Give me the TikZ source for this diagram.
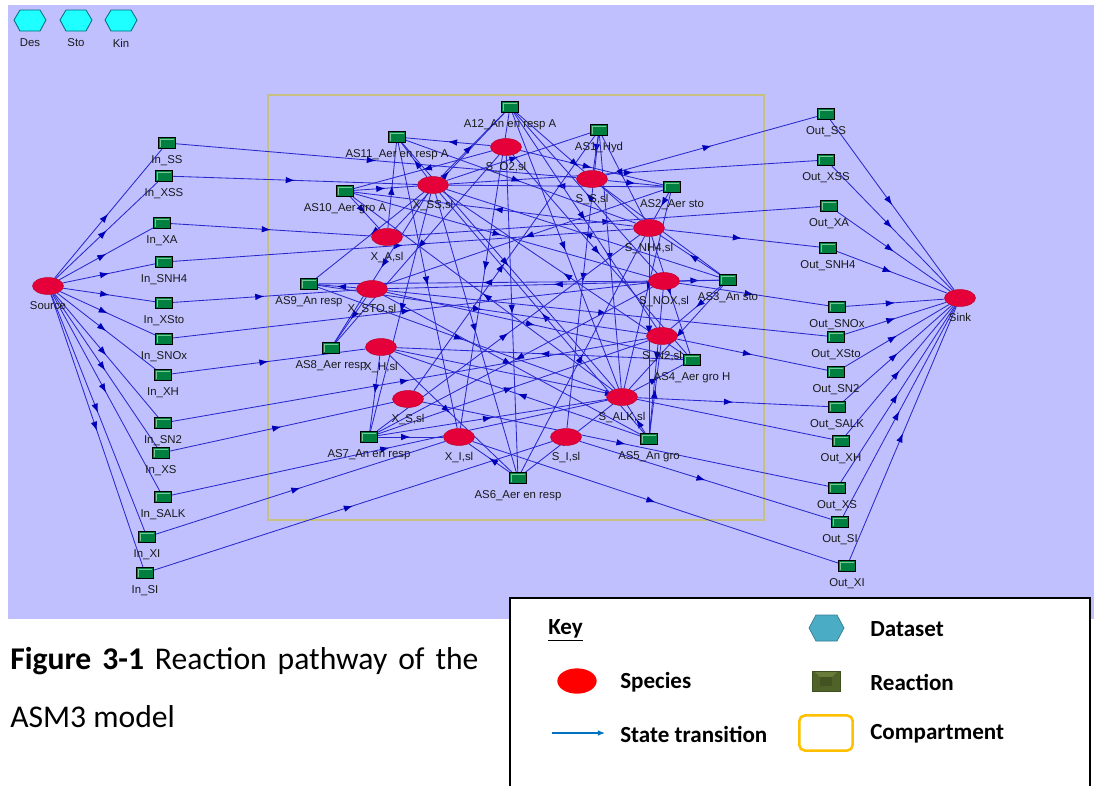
\documentclass[tikz,border=0pt]{standalone}
\usepackage{fontspec}
\setmainfont{Liberation Sans}
\newfontfamily\capfont{Carlito}
\usetikzlibrary{arrows.meta,decorations.markings,shapes.geometric}
\definecolor{lav}{RGB}{192,192,255}
\definecolor{edgeblue}{RGB}{40,40,205}
\definecolor{tipblue}{RGB}{0,0,185}
\definecolor{spred}{RGB}{230,0,58}
\definecolor{spredd}{RGB}{190,0,40}
\definecolor{rxgreen}{RGB}{0,128,64}
\definecolor{rxlight}{RGB}{120,200,150}
\definecolor{compcol}{RGB}{200,192,128}
\definecolor{hexcyan}{RGB}{30,255,255}
\definecolor{hexline}{RGB}{0,110,120}
\definecolor{keyhex}{RGB}{75,172,198}
\definecolor{keyhexd}{RGB}{53,125,145}
\definecolor{keyrx}{RGB}{79,98,40}
\definecolor{keyrxl}{RGB}{105,125,58}
\definecolor{keyarrow}{RGB}{0,112,192}
\definecolor{keycomp}{RGB}{255,192,0}
\pgfdeclarelayer{back}
\pgfdeclarelayer{edges}
\pgfsetlayers{back,edges,main}
\tikzset{
 species/.style={ellipse, fill=spred, draw=spredd, line width=0.4pt, minimum width=22pt, minimum height=12pt, inner sep=0pt},
 rxn/.style={rectangle, fill=rxgreen, draw=black, line width=0.7pt, minimum width=11.4pt, minimum height=7.8pt, inner sep=0pt,
   path picture={\draw[rxlight, line width=0.5pt] ([xshift=1pt,yshift=1pt]path picture bounding box.south west) |- ([xshift=-1pt,yshift=-1pt]path picture bounding box.north east);}},
 lbl/.style={font=\fontsize{8.1}{9}\selectfont, text=black!90, inner sep=0pt},
 lb/.style={label={[lbl,label distance=4.4pt]below:#1}},
 conn/.style={draw=edgeblue, line width=0.6pt, postaction={decorate},
   decoration={markings, mark=at position 0.5 with {\arrow{Latex[length=6.5pt,width=4.6pt,color=tipblue]}}}},
 keytxt/.style={font=\capfont\bfseries\fontsize{16.4}{18}\selectfont, anchor=west, inner sep=0pt},
}
\begin{document}
\begin{tikzpicture}[x=0.025cm,y=-0.025cm]
\useasboundingbox (0,0) rectangle (1094,785);
\begin{pgfonlayer}{back}
 \fill[white] (0,0) rectangle (1094,785);
 \fill[lav] (8,5) rectangle (1094,619);
 \draw[compcol, line width=1.4pt] (268,95) rectangle (764,520);
\end{pgfonlayer}

% dataset hexagons
\foreach \cx/\nm/\t in {30/hd/Des,76/hs/Sto,121/hk/Kin}{
 \filldraw[fill=hexcyan,draw=hexline,line width=0.6pt] ({\cx-16},20) -- ({\cx-10},10) -- ({\cx+10},10) -- ({\cx+16},20) -- ({\cx+10},31) -- ({\cx-10},31) -- cycle;
 \node[lbl] (\nm) at (\cx,43) {\t};
}

% source / sink
\node[species,lb=Source] (src) at (48,286) {};
\node[species,lb=Sink] (snk) at (960,298) {};

% input reactions
\node[rxn,lb=In\_SS] (iSS) at (167,143) {};
\node[rxn,lb=In\_XSS] (iXSS) at (164,176) {};
\node[rxn,lb=In\_XA] (iXA) at (162,223) {};
\node[rxn,lb=In\_SNH4] (iSNH4) at (164,262) {};
\node[rxn,lb=In\_XSto] (iXSto) at (164,303) {};
\node[rxn,lb=In\_SNOx] (iSNOx) at (164,339) {};
\node[rxn,lb=In\_XH] (iXH) at (163,375) {};
\node[rxn,lb=In\_SN2] (iSN2) at (163,423) {};
\node[rxn,lb=In\_XS] (iXS) at (161,453) {};
\node[rxn,lb=In\_SALK] (iSALK) at (163,497) {};
\node[rxn,lb=In\_XI] (iXI) at (147,537) {};
\node[rxn,lb=In\_SI] (iSI) at (145,573) {};

% output reactions
\node[rxn,lb=Out\_SS] (oSS) at (826,114) {};
\node[rxn,lb=Out\_XSS] (oXSS) at (826,160) {};
\node[rxn,lb=Out\_XA] (oXA) at (829,206) {};
\node[rxn,lb=Out\_SNH4] (oSNH4) at (828,248) {};
\node[rxn,lb=Out\_SNOx] (oSNOx) at (837,307) {};
\node[rxn,lb=Out\_XSto] (oXSto) at (836,337) {};
\node[rxn,lb=Out\_SN2] (oSN2) at (836,372) {};
\node[rxn,lb=Out\_SALK] (oSALK) at (837,407) {};
\node[rxn,lb=Out\_XH] (oXH) at (841,441) {};
\node[rxn,lb=Out\_XS] (oXS) at (837,488) {};
\node[rxn,lb=Out\_SI] (oSI) at (840,522) {};
\node[rxn,lb=Out\_XI] (oXI) at (847,566) {};

% species in compartment
\node[species,lb={S\_O2,sl}] (so2) at (506,147) {};
\node[species,lb={X\_SS,sl}] (xss) at (433,185) {};
\node[species,lb={X\_A,sl}] (xa) at (387,237) {};
\node[species,lb={S\_S,sl}] (ss) at (592,179) {};
\node[species,lb={S\_NH4,sl}] (snh) at (649,228) {};
\node[species,lb={X\_STO,sl}] (xsto) at (372,289) {};
\node[species,lb={S\_NOX,sl}] (snox) at (664,281) {};
\node[species,lb={X\_H,sl}] (xh) at (381,347) {};
\node[species,lb={S\_N2,sl}] (sn2) at (662,336) {};
\node[species,lb={X\_S,sl}] (xs) at (408,399) {};
\node[species,lb={S\_ALK,sl}] (salk) at (622,397) {};
\node[species,lb={X\_I,sl}] (xi) at (459,437) {};
\node[species,lb={S\_I,sl}] (si) at (566,437) {};

% process reactions
\node[rxn,lb=AS1\_Hyd] (r1) at (599,130) {};
\node[rxn,lb=AS2\_Aer sto] (r2) at (672,187) {};
\node[rxn,lb=AS3\_An sto] (r3) at (728,280) {};
\node[rxn,lb=AS4\_Aer gro H] (r4) at (692,360) {};
\node[rxn,lb=AS5\_An gro] (r5) at (649,439) {};
\node[rxn,lb=AS6\_Aer en resp] (r6) at (518,478) {};
\node[rxn,lb=AS7\_An en resp] (r7) at (369,437) {};
\node[rxn,lb=AS8\_Aer resp] (r8) at (331,348) {};
\node[rxn,lb=AS9\_An resp] (r9) at (309,284) {};
\node[rxn,lb=AS10\_Aer gro A] (r10) at (345,191) {};
\node[rxn,lb=AS11\_Aer en resp A] (r11) at (397,137) {};
\node[rxn,lb=A12\_An en resp A] (r12) at (510,107) {};

\begin{pgfonlayer}{edges}
\foreach \a/\b in {src/iSS,src/iXSS,src/iXA,src/iSNH4,src/iXSto,src/iSNOx,src/iXH,src/iSN2,src/iXS,src/iSALK,src/iXI,src/iSI,
  iSS/ss,iXSS/xss,iXA/xa,iSNH4/snh,iXSto/xsto,iSNOx/snox,iXH/xh,iSN2/sn2,iXS/xs,iSALK/salk,iXI/xi,iSI/si,
  ss/oSS,xss/oXSS,xa/oXA,snh/oSNH4,snox/oSNOx,xsto/oXSto,sn2/oSN2,salk/oSALK,xh/oXH,xs/oXS,si/oSI,xi/oXI,
  oSS/snk,oXSS/snk,oXA/snk,oSNH4/snk,oSNOx/snk,oXSto/snk,oSN2/snk,oSALK/snk,oXH/snk,oXS/snk,oSI/snk,oXI/snk,
  xs/r1,xss/r1,r1/ss,r1/snh,r1/salk,r1/si,
  ss/r2,so2/r2,r2/xsto,r2/snh,r2/salk,r2/xss,
  ss/r3,snox/r3,r3/xsto,r3/sn2,r3/snh,r3/salk,r3/xss,
  xsto/r4,so2/r4,snh/r4,salk/r4,r4/xh,r4/xss,
  xsto/r5,snox/r5,snh/r5,r5/xh,r5/sn2,r5/salk,r5/xss,
  xh/r6,so2/r6,xss/r6,r6/xi,r6/snh,r6/salk,
  xh/r7,snox/r7,xss/r7,r7/xi,r7/sn2,r7/snh,r7/salk,
  xsto/r8,so2/r8,xss/r8,
  xsto/r9,snox/r9,xss/r9,r9/sn2,r9/salk,
  snh/r10,so2/r10,salk/r10,r10/xa,r10/snox,r10/xss,
  xa/r11,so2/r11,xss/r11,r11/xi,r11/snh,r11/salk,
  xa/r12,snox/r12,xss/r12,r12/xi,r12/sn2,r12/snh,r12/salk}
  \draw[conn] (\a) -- (\b);
\end{pgfonlayer}

% caption
\node[anchor=base west, inner sep=0pt, font=\capfont\fontsize{22.5}{27}\selectfont] (cap1) at (10,669)
  {\hbox to 333pt{\textbf{Figure 3-1} Reaction pathway of the}};
\node[anchor=base west, inner sep=0pt, font=\capfont\fontsize{22.5}{27}\selectfont] (cap2) at (10,727) {ASM3 model};

% legend
\fill[white] (510,598) rectangle (1090,790);
\draw[black, line width=1.3pt] (510,790) -- (510,598) -- (1090,598) -- (1090,790);
\node[keytxt] (keyt) at (548,630) {\underline{Key}};
\filldraw[fill=keyhex, draw=keyhexd, line width=0.5pt] (809,628) -- (816,615) -- (837,615) -- (844,628) -- (837,641) -- (816,641) -- cycle;
\node[keytxt] (kds) at (870,629) {Dataset};
\node[ellipse, fill=red, draw=none, minimum width=28pt, minimum height=18pt, inner sep=0pt] (ksp) at (577,681) {};
\node[keytxt] (kspt) at (620,682) {Species};
\node[rectangle, fill=keyrx, draw=keyrx!80!black, line width=0.4pt, minimum width=20pt, minimum height=14.5pt, inner sep=0pt] (krx) at (826,681) {};
\filldraw[fill=keyrxl, draw=none] (815,672) -- (837,672) -- (832,677) -- (820,677) -- cycle;
\fill[keyrx!85!black] (820,677) rectangle (832,686);
\node[keytxt] (krxt) at (870,682) {Reaction};
\coordinate (ka1) at (552,733);
\coordinate (ka2) at (605,733);
\draw[keyarrow, line width=0.9pt, -{Latex[length=5pt,width=4pt]}] (ka1) -- (ka2);
\node[keytxt] (kst) at (620,734) {State transition};
\node[rectangle, rounded corners=4pt, draw=keycomp, line width=1.8pt, minimum width=38pt, minimum height=25pt, inner sep=0pt] (kcp) at (826,733) {};
\node[keytxt] (kcpt) at (870,734) {Compartment};
\end{tikzpicture}
\end{document}
